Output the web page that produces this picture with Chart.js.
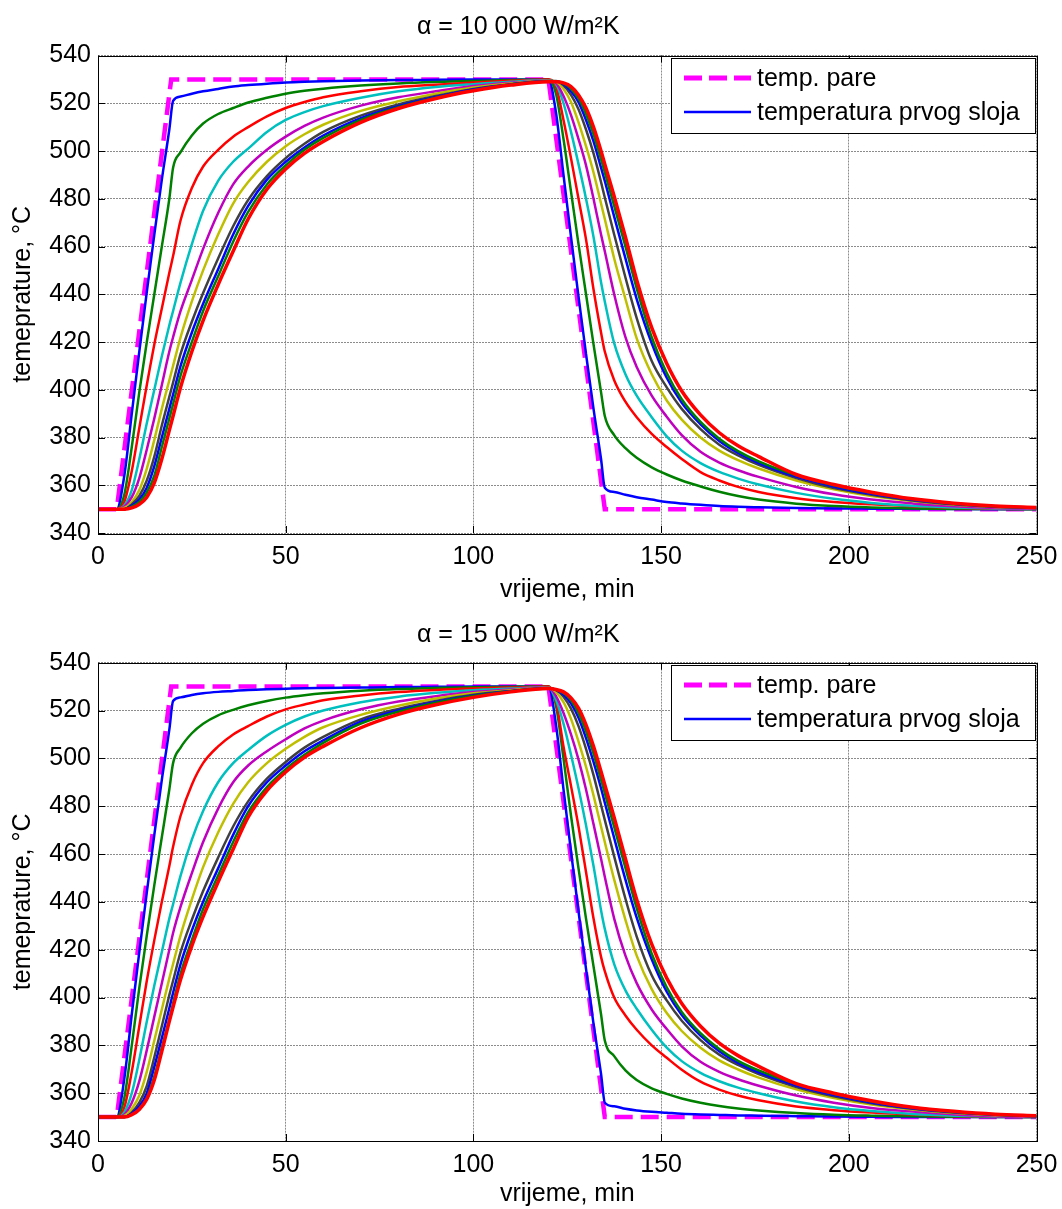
<!DOCTYPE html>
<html>
<head>
<meta charset="utf-8">
<title>temperatura slojeva</title>
<script src="https://cdn.jsdelivr.net/npm/chart.js@4.4.0/dist/chart.umd.min.js"></script>
<style>
  html, body { margin: 0; padding: 0; background: #fff; }
  canvas { display: block; }
</style>
</head>
<body>
<canvas id="chartTop" width="1062" height="605"></canvas>
<canvas id="chartBottom" width="1062" height="604"></canvas>
<script>
'use strict';

// time axis (min) - heating part and cooling part
const riseTimes = [0, 5, 7, 9, 11, 13, 15, 17, 19, 20, 22, 25, 28, 32, 36, 40, 45, 50, 55, 60, 70, 80, 90, 100, 110, 120];
const fallTimes = [122, 124, 126, 128, 130, 132, 134, 135, 137.5, 140.5, 143.5, 147.5, 151.5, 155.5, 160.5, 165.5, 170.5, 176, 186, 196, 206, 217, 228, 239, 250];
const layerTimes = riseTimes.concat(fallTimes);

// steam temperature
const steamTimes = [0, 5, 19.5, 120, 135, 250];
const steamTemps = [350, 350, 530, 530, 350, 350];

const xTicks = [0, 50, 100, 150, 200, 250];
const yTicks = [340, 360, 380, 400, 420, 440, 460, 480, 500, 520, 540];

const legendLabels = ['temp. pare', 'temperatura prvog sloja'];
const titleTop = 'α = 10 000 W/m²K';
const titleBottom = 'α = 15 000 W/m²K';

// alpha = 10 000 W/m2K
const topLayer1 = [350, 350, 364, 390, 416, 441, 465, 488, 509, 521, 522.8, 524, 525, 526, 527, 527.6, 528.2, 528.7, 529, 529.2, 529.5, 529.7, 529.8, 529.9, 530, 530,
  516, 490, 464, 439, 415, 392, 371, 359, 357.2, 356, 355, 354, 353, 352.4, 351.8, 351.3, 351, 350.8, 350.5, 350.3, 350.2, 350.1, 350, 350, 350];
const topLayer2 = [350, 350, 356, 376, 399, 420, 440, 460, 480, 493, 499.5, 506.5, 511.5, 515.5, 518, 520.3, 522.3, 524, 525.2, 526.1, 527.4, 528.3, 528.9, 529.3, 529.7, 530,
  524, 505, 483, 461, 440, 419, 399, 389, 381, 375.5, 371.5, 367.5, 364.5, 362, 359.5, 357.3, 355.5, 354, 352.3, 351.3, 350.7, 350.3, 350.1, 350, 350];
const topLayer3 = [350, 350, 353, 366, 384, 402, 419, 434, 449, 456, 471, 484.5, 493.5, 500.5, 506, 510, 514.5, 518, 520.5, 522.5, 525, 526.8, 527.8, 528.7, 529.4, 529.9,
  527, 513, 497, 480, 463, 442, 424, 416, 404, 395, 388.5, 381.5, 376, 371, 365.5, 362, 359.3, 357.2, 354.6, 353, 352, 351.2, 350.6, 350.2, 350];
const topLayer4 = [350, 350, 351.5, 358, 371, 386, 400, 414, 427, 433, 445, 461, 475, 487.5, 495.5, 501, 508, 513, 516.3, 518.8, 522.3, 525, 526.8, 528, 529, 529.6,
  528, 520, 508, 494.5, 480, 464, 445, 437, 419.5, 406.5, 397.5, 388.5, 380.5, 374.5, 369.3, 365.6, 362.8, 360.3, 356.8, 354.3, 352.6, 351.4, 350.7, 350.3, 350];
const topLayer5 = [350, 350, 351, 355, 363, 375, 388, 402, 416, 422, 433, 446, 459, 474, 486, 493.5, 500.5, 506, 510.5, 514, 519, 522.5, 525, 527.2, 528.6, 529.5,
  528.5, 523, 515, 505, 494, 480, 465, 458, 440, 422, 409.5, 397.5, 388.7, 381, 374, 369.5, 366.3, 363.5, 359.3, 356.2, 354, 352.4, 351.2, 350.5, 350.2];
const topLayer6 = [350, 350, 350.5, 353, 358, 367, 379, 392, 404, 410, 422, 437, 450, 465, 478, 487, 495.5, 502, 507, 511, 516.8, 520.8, 524, 526.6, 528.3, 529.4,
  529, 526, 520.5, 512, 502, 491, 478, 471.5, 455, 438, 421.5, 406.5, 395.5, 387.5, 380, 374.5, 370.5, 367, 362, 358.3, 355.5, 353.4, 351.8, 350.9, 350.4];
const topLayer7 = [350, 350, 350, 352, 355.5, 362, 372, 385, 397, 403, 415, 428.5, 440.5, 455, 468.5, 479.5, 489.5, 497, 503, 508, 514.8, 519.5, 523, 526, 528, 529.3,
  529.3, 527.5, 523.5, 517.5, 509, 499, 487, 480.5, 465, 447, 430, 412, 401, 392, 383.5, 377, 372.5, 368.5, 363, 358.8, 356, 353.6, 352, 351, 350.5];
const topLayer8 = [350, 350, 350, 351.5, 354, 359, 368, 380, 392, 398, 410, 424, 436, 450.5, 465, 477, 488, 495.5, 501.5, 506.5, 513.8, 518.8, 522.6, 525.8, 527.9, 529.2,
  529.2, 528, 525, 520.5, 513, 504, 493, 487.5, 472.5, 455, 438, 419.5, 405, 394.5, 385.5, 378.5, 373.5, 369.3, 363.6, 359.5, 356.4, 353.9, 352.2, 351.1, 350.5];
const topLayer9 = [350, 350, 350, 351, 353, 357, 364, 376, 388, 394, 406, 420, 433, 447.5, 462, 474.5, 486, 494, 500.5, 505.5, 513, 518.3, 522.3, 525.5, 527.8, 529.1,
  529.1, 528.3, 526, 522, 515.5, 507, 496.5, 491, 477, 460, 442.5, 422, 407, 396, 386.5, 379.5, 374.3, 370, 364.2, 360, 356.8, 354.2, 352.4, 351.2, 350.6];
const topLayer10 = [350, 350, 350, 350.5, 352, 355, 361, 371, 383, 389, 401, 416, 429, 444, 458, 471.5, 484, 492.5, 499, 504, 512, 517.8, 522, 525.2, 527.6, 529,
  529, 528.5, 527, 523.5, 518, 510, 500, 494.5, 481, 464, 446, 426, 411, 399.5, 389.5, 382, 376.5, 372, 364.5, 360.3, 357.1, 354.3, 352.5, 351.3, 350.7];

// alpha = 15 000 W/m2K
const bottomLayer1 = [350, 350, 366, 393, 419, 444, 468, 491, 512, 524, 525.5, 526.5, 527.2, 527.8, 528.2, 528.6, 528.9, 529.1, 529.3, 529.4, 529.6, 529.8, 529.9, 530, 530, 530,
  514, 487, 461, 436, 412, 389, 368, 356, 354.5, 353.5, 352.8, 352.2, 351.8, 351.4, 351.1, 350.9, 350.7, 350.6, 350.4, 350.2, 350.1, 350, 350, 350, 350];
const bottomLayer2 = [350, 350, 358, 380, 404, 426, 447, 467, 487, 498, 504.5, 510.5, 514.5, 518, 520.3, 522.2, 524, 525.4, 526.4, 527.2, 528.3, 529, 529.4, 529.7, 529.9, 530,
  522, 500, 476, 454, 433, 413, 393, 382, 375.5, 369.5, 365.5, 362, 359.7, 357.8, 356, 354.6, 353.6, 352.8, 351.7, 351, 350.6, 350.3, 350.1, 350, 350];
const bottomLayer3 = [350, 350, 354, 369, 388, 407, 424, 440, 455, 463, 476, 489, 498, 505, 510, 513.5, 517.5, 520.5, 522.5, 524.3, 526.3, 527.7, 528.6, 529.2, 529.6, 530,
  524, 505, 488.5, 471.5, 452.5, 433, 417, 411, 400, 392.5, 386.5, 380, 374.8, 369.8, 364.8, 361.5, 359, 357, 354.4, 352.9, 351.9, 351.1, 350.5, 350.2, 350];
const bottomLayer4 = [350, 350, 352, 360, 374, 390, 405, 419, 433, 439, 451, 466, 478, 490, 498, 503.5, 509.5, 514, 517.5, 520, 523.5, 525.8, 527.4, 528.5, 529.2, 529.7,
  524.5, 514.5, 501.5, 487.5, 472, 455, 436.5, 428.7, 414, 403, 395.3, 386.5, 379, 373.4, 368.5, 365, 362.3, 360, 356.5, 354.1, 352.5, 351.3, 350.6, 350.2, 350];
const bottomLayer5 = [350, 350, 351, 356, 365, 378, 392, 406, 420, 427, 438, 452, 465, 479, 490, 497, 503, 508, 512.5, 515.8, 520.5, 523.8, 526, 527.7, 528.8, 529.6,
  526, 519, 510, 499.5, 487, 472.5, 458, 450.5, 433, 417.5, 406, 395, 386.8, 379.6, 373.1, 368.9, 365.8, 363.1, 359, 356, 353.8, 352.3, 351.1, 350.4, 350.1];
const bottomLayer6 = [350, 350, 350.5, 353.5, 359, 369, 382, 395, 408, 414, 426, 441, 454.5, 469, 481, 490, 498, 504, 509, 513, 518.2, 522, 525, 527.2, 528.5, 529.5,
  527.7, 523.5, 516.5, 507, 496.5, 484.5, 471.5, 465, 449.3, 432.5, 417.5, 403.5, 393.5, 386, 379, 373.7, 369.9, 366.5, 361.6, 358, 355.3, 353.2, 351.7, 350.8, 350.3];
const bottomLayer7 = [350, 350, 350, 352, 356, 363, 375, 388, 401, 407, 419, 432.5, 444.5, 458.5, 471.5, 482, 491.5, 498.5, 504.5, 509, 516.3, 520.7, 524, 526.6, 528.2, 529.4,
  528.6, 525.8, 520.8, 513.5, 504, 493, 480.5, 474.3, 459, 441.3, 425.5, 409.3, 398.8, 390.3, 382.2, 376.1, 371.8, 368, 362.6, 358.7, 355.8, 353.5, 351.9, 351, 350.4];
const bottomLayer8 = [350, 350, 350, 351.5, 354.5, 360, 371, 383, 395.5, 402, 414, 428, 440, 454, 468, 480, 490, 497, 503, 507.5, 515.3, 520, 523.6, 526.3, 528.1, 529.3,
  528.7, 526.7, 523, 517, 508.5, 498.5, 487.5, 481.5, 466.7, 449.3, 433.4, 416, 402.4, 392.7, 384.1, 377.5, 372.7, 368.7, 363.2, 359.2, 356.1, 353.7, 352.1, 351, 350.4];
const bottomLayer9 = [350, 350, 350, 351, 353.5, 358, 367, 379, 391, 397.5, 410, 424, 437, 451, 465, 477.5, 488, 495.5, 501.5, 506.5, 514.5, 519.5, 523.3, 526.1, 528, 529.2,
  528.8, 527.3, 524.3, 519, 511.3, 502, 491, 485.5, 471.3, 454.2, 437.4, 418.3, 404.3, 394, 385.1, 378.5, 373.5, 369.5, 363.8, 359.7, 356.5, 354, 352.3, 351.1, 350.5];
const bottomLayer10 = [350, 350, 350, 351, 353.2, 357.5, 365.5, 377.5, 390, 396, 407.5, 421.6, 433.8, 448.3, 462, 475.4, 486.5, 494.3, 500.4, 505, 512.8, 518.4, 522.4, 525.5, 527.8, 529.2,
  528.8, 527.8, 525.3, 521, 514, 505, 494.5, 489, 475.3, 458, 441, 422.3, 408.1, 397.5, 388, 380.9, 375.7, 371.2, 364, 360, 356.8, 354.1, 352.4, 351.2, 350.6];

const topLayers = [topLayer1, topLayer2, topLayer3, topLayer4, topLayer5, topLayer6, topLayer7, topLayer8, topLayer9, topLayer10];
const bottomLayers = [bottomLayer1, bottomLayer2, bottomLayer3, bottomLayer4, bottomLayer5, bottomLayer6, bottomLayer7, bottomLayer8, bottomLayer9, bottomLayer10];

// matlab line colours (b g r c m y k b g r)
const layerColors = ['#0000ff', '#008000', '#ff0000', '#00bfbf', '#bf00bf', '#bfbf00', '#404040', '#0000ff', '#008000', '#ff0000'];

Chart.defaults.font.family = '"Liberation Sans", Arial, sans-serif';
Chart.defaults.font.size = 25;
Chart.defaults.color = '#000';

// axes box, inward ticks and the legend, like matlab draws them
const matlabFrame = {
  id: 'matlabFrame',
  afterDraw(chart) {
    const ctx = chart.ctx;
    const a = chart.chartArea;
    const xs = chart.scales.x;
    const ys = chart.scales.y;
    ctx.save();
    ctx.strokeStyle = '#000';
    ctx.lineWidth = 1;
    ctx.setLineDash([]);
    ctx.beginPath();
    xTicks.forEach(v => {
      const px = Math.round(xs.getPixelForValue(v)) + 0.5;
      ctx.moveTo(px, a.bottom); ctx.lineTo(px, a.bottom - 7);
      ctx.moveTo(px, a.top); ctx.lineTo(px, a.top + 7);
    });
    yTicks.forEach(v => {
      const py = Math.round(ys.getPixelForValue(v)) + 0.5;
      ctx.moveTo(a.left, py); ctx.lineTo(a.left + 7, py);
      ctx.moveTo(a.right, py); ctx.lineTo(a.right - 7, py);
    });
    ctx.stroke();
    ctx.strokeRect(Math.round(a.left) + 0.5, Math.round(a.top) + 0.5, Math.round(a.width), Math.round(a.height));

    // legend
    const right = Math.round(a.right) - 2;
    const left = right - 364;
    const top = Math.round(a.top) + 2;
    const h = 75;
    ctx.fillStyle = '#fff';
    ctx.fillRect(left, top, right - left, h);
    ctx.strokeRect(left + 0.5, top + 0.5, right - left, h);
    const sets = chart.data.datasets;
    const rows = [top + 20, top + 54];
    for (let i = 0; i < 2; i++) {
      ctx.beginPath();
      ctx.strokeStyle = sets[i].borderColor;
      ctx.lineWidth = i === 0 ? 5 : 2.5;
      ctx.setLineDash(i === 0 ? [18, 7] : []);
      ctx.moveTo(left + 13, rows[i]);
      ctx.lineTo(left + 80, rows[i]);
      ctx.stroke();
      ctx.setLineDash([]);
      ctx.fillStyle = '#000';
      ctx.font = '25px "Liberation Sans", Arial, sans-serif';
      ctx.textBaseline = 'middle';
      ctx.textAlign = 'left';
      ctx.fillText(legendLabels[i], left + 86, rows[i] + 1);
    }
    ctx.restore();
  }
};

function buildChart(canvasId, titleText, layers, titlePad, axisHeight) {
  const datasets = [{
    label: legendLabels[0],
    data: steamTimes.map((t, i) => ({ x: t, y: steamTemps[i] })),
    borderColor: '#ff00ff',
    borderWidth: 4.5,
    borderDash: [18, 8],
    tension: 0,
    order: 11
  }];
  layers.forEach((vals, i) => {
    datasets.push({
      label: i === 0 ? legendLabels[1] : 'sloj ' + (i + 1),
      data: layerTimes.map((t, j) => ({ x: t, y: vals[j] })),
      borderColor: layerColors[i],
      borderWidth: i === 9 ? 3.5 : 2.5,
      cubicInterpolationMode: 'monotone',
      order: 10 - i
    });
  });

  const gridOpts = { color: '#8c8c8c', lineWidth: 1, drawTicks: false };

  return new Chart(document.getElementById(canvasId), {
    type: 'line',
    data: { datasets: datasets },
    options: {
      responsive: false,
      animation: false,
      devicePixelRatio: 1,
      layout: { padding: { left: 0, right: 25.5, top: 0, bottom: 0 } },
      elements: { point: { radius: 0 } },
      plugins: {
        legend: { display: false },
        tooltip: { enabled: false },
        title: {
          display: true,
          text: titleText,
          font: { size: 25, weight: 'normal' },
          color: '#000',
          padding: titlePad
        }
      },
      scales: {
        x: {
          type: 'linear',
          min: 0,
          max: 250,
          grid: gridOpts,
          border: { display: false, dash: [2, 1] },
          ticks: { stepSize: 50, padding: 9, maxRotation: 0 },
          title: { display: true, text: 'vrijeme, min', padding: { top: 0, bottom: 0 } },
          afterFit(scale) {
            scale.height = axisHeight;
            scale.paddingLeft = 0;
            scale.paddingRight = 0;
          }
        },
        y: {
          min: 340,
          max: 540,
          grid: gridOpts,
          border: { display: false, dash: [2, 1] },
          ticks: { stepSize: 20, padding: 7 },
          title: { display: true, text: 'temeprature, °C', padding: { top: 8, bottom: 0 } },
          afterFit(scale) { scale.width = 98; }
        }
      }
    },
    plugins: [matlabFrame]
  });
}

buildChart('chartTop', titleTop, topLayers, { top: 12.5, bottom: 13 }, 72);
buildChart('chartBottom', titleBottom, bottomLayers, { top: 15, bottom: 12.7 }, 68);
</script>
</body>
</html>
